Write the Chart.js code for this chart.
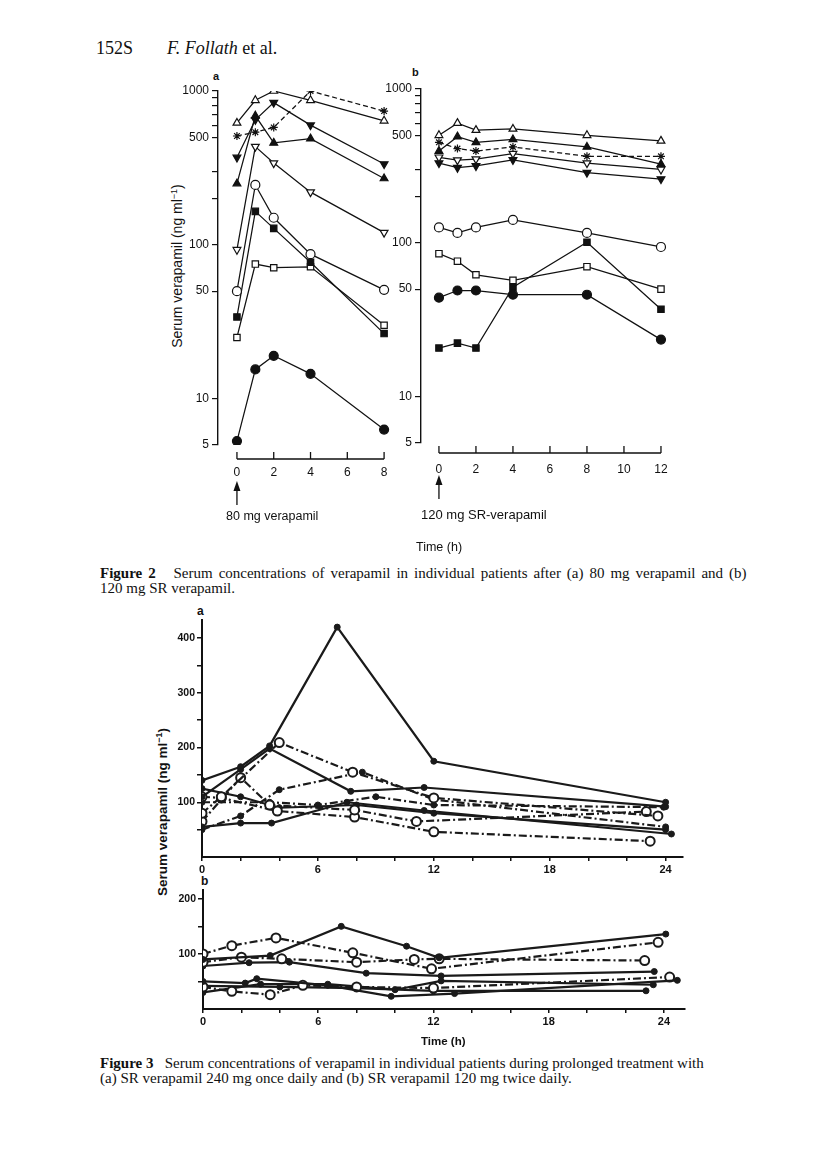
<!DOCTYPE html>
<html>
<head>
<meta charset="utf-8">
<script src="https://cdn.jsdelivr.net/npm/chart.js@4.4.0/dist/chart.umd.min.js"></script>
<style>
body { margin: 0; background: #fff; width: 816px; height: 1162px; position: relative; overflow: hidden;
       font-family: "Liberation Serif", "Times New Roman", serif; color: #111; }
.t { position: absolute; white-space: nowrap; }
.sans { font-family: "Liberation Sans", Arial, sans-serif; }
.rot { transform: translate(-50%, -50%) rotate(-90deg); }
canvas { position: absolute; }
</style>
</head>
<body>

<div class="t" style="left:96px; top:38px; font-size:18px;">152S<span style="display:inline-block; width:34px"></span><i>F. Follath</i> et al.</div>

<!-- Figure 2 -->
<div class="t sans" style="left:213px; top:70px; font-size:11px; font-weight:bold;">a</div>
<div class="t sans" style="left:412px; top:66px; font-size:11px; font-weight:bold;">b</div>
<div class="t sans rot" style="left:177px; top:266px; font-size:14px;">Serum verapamil (ng ml<sup style="font-size:9px">−1</sup>)</div>
<canvas id="fig2a" width="260" height="460" style="left:150px; top:70px;"></canvas>
<canvas id="fig2b" width="310" height="460" style="left:380px; top:70px;"></canvas>
<div class="t sans" style="left:226px; top:509px; font-size:12.5px;">80 mg verapamil</div>
<div class="t sans" style="left:421px; top:507px; font-size:13px;">120 mg SR-verapamil</div>
<div class="t sans" style="left:416px; top:540px; font-size:12.5px;">Time (h)</div>
<div class="t" style="left:100px; top:566px; font-size:15px; line-height:15px;"><span style="word-spacing:2.2px"><b>Figure 2</b>&nbsp;&nbsp; Serum concentrations of verapamil in individual patients after (a) 80 mg verapamil and (b)</span><br>120 mg SR verapamil.</div>

<!-- Figure 3 -->
<div class="t sans" style="left:197px; top:604px; font-size:12px; font-weight:bold;">a</div>
<div class="t sans" style="left:201px; top:874px; font-size:12px; font-weight:bold;">b</div>
<div class="t sans rot" style="left:162px; top:812px; font-size:13.5px; font-weight:bold;">Serum verapamil (ng ml<sup style="font-size:9px">−1</sup>)</div>
<canvas id="fig3a" width="560" height="285" style="left:140px; top:605px;"></canvas>
<canvas id="fig3b" width="560" height="165" style="left:140px; top:880px;"></canvas>
<div class="t sans" style="left:421px; top:1035px; font-size:11.5px; font-weight:bold;">Time (h)</div>
<div class="t" style="left:100px; top:1056px; font-size:15px; line-height:15px;"><b>Figure 3</b>&nbsp;&nbsp; Serum concentrations of verapamil in individual patients during prolonged treatment with<br>(a) SR verapamil 240 mg once daily and (b) SR verapamil 120 mg twice daily.</div>

<script>
// ---- Figure 2a : 80 mg verapamil (h, ng/ml) ----
const f2aTime = [0, 1, 2, 4, 8];
const f2aOpenUp = [620, 870, 1000, 870, 640];
const f2aStar = [510, 540, 580, 1000, 740];
const f2aFillDown = [370, 650, 840, 600, 335];
const f2aFillUp = [250, 690, 460, 490, 270];
const f2aOpenDown = [93, 435, 340, 220, 120];
const f2aOpenCircle = [50, 245, 150, 87, 51];
const f2aFillSquare = [34, 165, 128, 77, 26.5];
const f2aOpenSquare = [25, 75, 71, 72, 30];
const f2aFillCircle = [5.3, 15.5, 19, 14.5, 6.3];

// ---- Figure 2b : 120 mg SR verapamil ----
const f2bTime = [0, 1, 2, 4, 8, 12];
const f2bOpenUp = [500, 600, 540, 550, 500, 460];
const f2bFillUp = [395, 490, 450, 470, 420, 325];
const f2bStar = [450, 410, 395, 420, 365, 365];
const f2bOpenDown = [360, 345, 350, 380, 330, 300];
const f2bFillDown = [330, 308, 316, 346, 286, 260];
const f2bOpenCircle = [126, 116, 126, 141, 116, 94];
const f2bOpenSquare = [85, 76, 62, 57, 70, 50];
const f2bFillCircle = [44, 49, 49, 46, 46, 23.5];
const f2bFillSquare = [20.7, 22.3, 20.7, 51.5, 101, 37];

const f2LogTicks = [5, 10, 50, 100, 200, 300, 500, 600, 700, 800, 900, 1000];
const f2LogLabels = [5, 10, 50, 100, 500, 1000];
const f2aHourTicks = [0, 2, 4, 6, 8];
const f2bHourTicks = [0, 2, 4, 6, 8, 10, 12];

// ---- Figure 3a : SR 240 mg once daily, [hour, ng/ml] ----
const f3a1 = [[0, 140], [2, 165], [3.5, 203], [7, 420], [12, 175], [24, 100]];
const f3a2 = [[0, 110], [2, 160], [3.5, 198], [7.7, 120], [11.5, 127], [24, 92]];
const f3a3 = [[0, 80], [1, 110], [4, 209], [7.8, 155], [12, 108], [23.6, 75]];
const f3a4 = [[0, 50], [2, 75], [4, 123], [8.3, 155], [12, 105], [24, 55]];
const f3a5 = [[0, 55], [2, 62], [3.6, 62], [7.5, 100], [11.5, 85], [24.3, 42]];
const f3a6 = [[0, 65], [2, 145], [3.5, 95], [7.9, 86], [11.1, 65], [23, 83]];
const f3a7 = [[0, 110], [1, 108], [3.9, 84], [7.9, 73], [12, 46], [23.2, 29]];
const f3a8 = [[0, 125], [2, 110], [4, 90], [8, 95], [12, 80], [24, 50]];
const f3a9 = [[0, 100], [3.5, 100], [6, 95], [9, 110], [12, 95], [23.9, 91]];

// ---- Figure 3b : SR 120 mg twice daily ----
const f3b1 = [[0, 90], [3.5, 97], [7.2, 150], [10.6, 114], [12.3, 93], [24.1, 136]];
const f3b2 = [[0, 100], [1.5, 115], [3.8, 129], [7.8, 102], [11.9, 73], [23.7, 121]];
const f3b3 = [[0, 85], [2, 94], [4.1, 91], [8, 85], [11, 90], [12.3, 91], [23, 88]];
const f3b4 = [[0, 78], [2.4, 84], [4.5, 85], [8.5, 65], [12.4, 60], [23.5, 68]];
const f3b5 = [[0, 50], [2.2, 47], [2.8, 55], [6.5, 43], [9.8, 23], [13.1, 28], [24.7, 52]];
const f3b6 = [[0, 40], [1.5, 32], [3.5, 26], [5.2, 43], [8, 40], [12, 38], [24.3, 58]];
const f3b7 = [[0, 30], [3, 45], [6.5, 45], [10, 35], [12.4, 51], [23.45, 44]];
const f3b8 = [[0, 42], [4, 40], [8, 38], [12, 33], [23.07, 33]];

const f3HourTicks = [0, 2, 4, 6, 8, 10, 12, 14, 16, 18, 20, 22, 24];
const f3aTicks = [50, 100, 150, 200, 250, 300, 350, 400];
const f3bTicks = [50, 100, 150, 200];

const ink = '#111';
const sans = '"Liberation Sans", Arial, sans-serif';

// marker helpers
function mk(shape, filled, r, rot) {
    return {
        pointStyle: shape,
        pointRadius: r,
        pointRotation: rot || 0,
        pointBackgroundColor: filled ? ink : '#fff',
        pointBorderColor: ink,
        pointBorderWidth: 1.2
    };
}

function line2(times, vals, marker, dashed) {
    return Object.assign({
        data: times.map((t, i) => ({x: t, y: vals[i]})),
        borderColor: ink,
        borderWidth: 1.25,
        borderDash: dashed ? [5, 3] : [],
        fill: false,
        tension: 0
    }, marker);
}

function line3(pairs, open, dashdot) {
    return {
        data: pairs,
        borderColor: '#1a1a1a',
        borderWidth: 2.2,
        borderDash: dashdot ? [8, 3, 2, 3] : [],
        pointStyle: 'circle',
        pointRadius: open ? 4.5 : 3,
        pointBackgroundColor: open ? '#fff' : '#1a1a1a',
        pointBorderColor: '#1a1a1a',
        pointBorderWidth: open ? 2 : 1,
        fill: false,
        tension: 0
    };
}

// x axis of figure 2 stands free below the plot, with an arrow at time 0
const detachedAxis = {
    id: 'detachedAxis',
    afterDraw(chart, args, opts) {
        const ctx = chart.ctx;
        const sx = chart.scales.x;
        const y0 = chart.chartArea.bottom + opts.drop;
        ctx.save();
        ctx.strokeStyle = ink;
        ctx.fillStyle = ink;
        ctx.lineWidth = 1.3;
        ctx.beginPath();
        ctx.moveTo(sx.getPixelForValue(opts.from), y0);
        ctx.lineTo(sx.getPixelForValue(opts.to), y0);
        opts.ticks.forEach(t => {
            const px = sx.getPixelForValue(t);
            ctx.moveTo(px, y0);
            ctx.lineTo(px, y0 - 7);
        });
        const ax = sx.getPixelForValue(0);
        ctx.moveTo(ax, y0 + 46);
        ctx.lineTo(ax, y0 + 28);
        ctx.stroke();
        ctx.beginPath();
        ctx.moveTo(ax, y0 + 22);
        ctx.lineTo(ax - 3.5, y0 + 32);
        ctx.lineTo(ax + 3.5, y0 + 32);
        ctx.closePath();
        ctx.fill();
        ctx.restore();
    }
};

function fig2Options(o) {
    return {
        responsive: false,
        animation: false,
        layout: {padding: {top: o.top, right: o.right, left: 0, bottom: 0}},
        plugins: {
            legend: {display: false},
            tooltip: {enabled: false},
            detachedAxis: {drop: o.drop, from: 0, to: o.hourTicks[o.hourTicks.length - 1], ticks: o.hourTicks}
        },
        scales: {
            x: {
                type: 'linear', min: o.xMin, max: o.xMax,
                afterBuildTicks: s => { s.ticks = o.hourTicks.map(v => ({value: v})); },
                grid: {display: false, drawTicks: false},
                border: {display: false},
                ticks: {padding: o.labelPad, autoSkip: false, maxRotation: 0, color: ink, font: {family: sans, size: 12}},
                afterFit: s => { s.height = o.bottom; }
            },
            y: {
                type: 'logarithmic', min: 5, max: 1000,
                afterBuildTicks: s => { s.ticks = f2LogTicks.map(v => ({value: v})); },
                ticks: {
                    autoSkip: false, padding: 3, color: ink, font: {family: sans, size: 12},
                    callback: v => f2LogLabels.includes(v) ? String(v) : ''
                },
                grid: {drawOnChartArea: false, tickLength: 6, color: ink, lineWidth: 1.2},
                border: {color: ink, width: 1.4},
                afterFit: s => { s.width = o.left; }
            }
        }
    };
}

function fig3Options(o) {
    return {
        responsive: false,
        animation: false,
        layout: {padding: {top: o.top, right: o.right, left: 0, bottom: 0}},
        plugins: {legend: {display: false}, tooltip: {enabled: false}},
        scales: {
            x: {
                type: 'linear', min: 0, max: o.xMax,
                afterBuildTicks: s => { s.ticks = f3HourTicks.map(v => ({value: v})); },
                ticks: {
                    autoSkip: false, maxRotation: 0, padding: 2, color: ink,
                    font: {family: sans, size: 11, weight: 'bold'},
                    callback: v => v % 6 === 0 ? String(v) : ''
                },
                grid: {drawOnChartArea: false, tickLength: 4, color: ink, lineWidth: 1.5},
                border: {color: ink, width: 2},
                afterFit: s => { s.height = o.bottom; }
            },
            y: {
                type: 'linear', min: 0, max: o.yMax,
                afterBuildTicks: s => { s.ticks = o.yTicks.map(v => ({value: v})); },
                ticks: {
                    autoSkip: false, padding: 2, color: ink,
                    font: {family: sans, size: 10.5, weight: 'bold'},
                    callback: v => v % 100 === 0 ? String(v) : ''
                },
                grid: {drawOnChartArea: false, tickLength: 5, color: ink, lineWidth: 1.5},
                border: {color: ink, width: 2},
                afterFit: s => { s.width = o.left; }
            }
        }
    };
}

new Chart(document.getElementById('fig2a'), {
    type: 'line',
    data: {
        datasets: [
            line2(f2aTime, f2aOpenUp, mk('triangle', false, 4.5)),
            line2(f2aTime, f2aStar, mk('star', false, 4), true),
            line2(f2aTime, f2aFillDown, mk('triangle', true, 4.5, 180)),
            line2(f2aTime, f2aFillUp, mk('triangle', true, 4.5)),
            line2(f2aTime, f2aOpenDown, mk('triangle', false, 4.5, 180)),
            line2(f2aTime, f2aOpenCircle, mk('circle', false, 4.5)),
            line2(f2aTime, f2aFillSquare, mk('rect', true, 4.5)),
            line2(f2aTime, f2aOpenSquare, mk('rect', false, 4.5)),
            line2(f2aTime, f2aFillCircle, mk('circle', true, 4.5))
        ]
    },
    options: fig2Options({left: 68, top: 21, right: 18, bottom: 85, xMin: -1.03, xMax: 8.43, drop: 14, labelPad: 20, hourTicks: f2aHourTicks}),
    plugins: [detachedAxis]
});

new Chart(document.getElementById('fig2b'), {
    type: 'line',
    data: {
        datasets: [
            line2(f2bTime, f2bOpenUp, mk('triangle', false, 4.5)),
            line2(f2bTime, f2bFillUp, mk('triangle', true, 4.5)),
            line2(f2bTime, f2bStar, mk('star', false, 4), true),
            line2(f2bTime, f2bOpenDown, mk('triangle', false, 4.5, 180)),
            line2(f2bTime, f2bFillDown, mk('triangle', true, 4.5, 180)),
            line2(f2bTime, f2bOpenCircle, mk('circle', false, 4.5)),
            line2(f2bTime, f2bOpenSquare, mk('rect', false, 4.5)),
            line2(f2bTime, f2bFillCircle, mk('circle', true, 4.5)),
            line2(f2bTime, f2bFillSquare, mk('rect', true, 4.5))
        ]
    },
    options: fig2Options({left: 41, top: 19, right: 22, bottom: 87, xMin: -0.97, xMax: 12.38, drop: 10, labelPad: 19, hourTicks: f2bHourTicks}),
    plugins: [detachedAxis]
});

new Chart(document.getElementById('fig3a'), {
    type: 'line',
    data: {
        datasets: [
            line3(f3a1, false, false),
            line3(f3a2, false, false),
            line3(f3a3, true, true),
            line3(f3a4, false, true),
            line3(f3a5, false, false),
            line3(f3a6, true, true),
            line3(f3a7, true, true),
            line3(f3a8, false, false),
            line3(f3a9, false, true)
        ]
    },
    options: fig3Options({left: 62, top: 15, right: 17, bottom: 33, xMax: 24.9, yMax: 433, yTicks: f3aTicks})
});

new Chart(document.getElementById('fig3b'), {
    type: 'line',
    data: {
        datasets: [
            line3(f3b1, false, false),
            line3(f3b2, true, true),
            line3(f3b3, true, true),
            line3(f3b4, false, false),
            line3(f3b5, false, false),
            line3(f3b6, true, true),
            line3(f3b7, false, false),
            line3(f3b8, false, false)
        ]
    },
    options: fig3Options({left: 63, top: 10, right: 15, bottom: 36, xMax: 25.1, yMax: 216, yTicks: f3bTicks})
});
</script>
</body>
</html>
